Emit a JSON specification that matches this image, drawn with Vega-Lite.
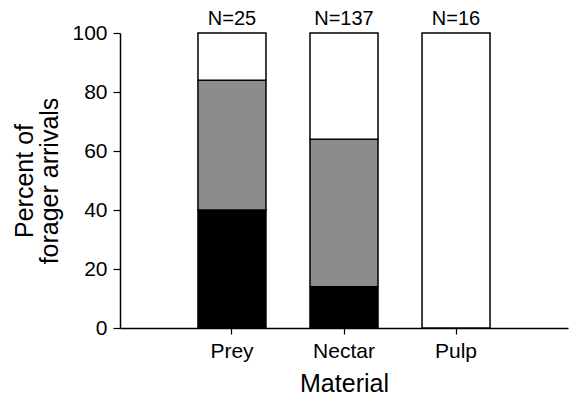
{
  "$schema": "https://vega.github.io/schema/vega-lite/v6.json",
  "width": 448,
  "height": 295,
  "autosize": "none",
  "padding": {"left": 120, "top": 33, "right": 1, "bottom": 71},
  "background": "white",
  "config": {
    "view": {"stroke": null},
    "font": "Liberation Sans"
  },
  "datasets": {
    "segs": [
      {"material": "Prey", "type": "black", "order": 1, "pct": 40},
      {"material": "Prey", "type": "gray", "order": 2, "pct": 44},
      {"material": "Prey", "type": "white", "order": 3, "pct": 16},
      {"material": "Nectar", "type": "black", "order": 1, "pct": 14},
      {"material": "Nectar", "type": "gray", "order": 2, "pct": 50},
      {"material": "Nectar", "type": "white", "order": 3, "pct": 36},
      {"material": "Pulp", "type": "black", "order": 1, "pct": 0},
      {"material": "Pulp", "type": "gray", "order": 2, "pct": 0},
      {"material": "Pulp", "type": "white", "order": 3, "pct": 100}
    ],
    "ns": [
      {"material": "Prey", "total": 100, "label": "N=25"},
      {"material": "Nectar", "total": 100, "label": "N=137"},
      {"material": "Pulp", "total": 100, "label": "N=16"}
    ]
  },
  "layer": [
    {
      "data": {"name": "segs"},
      "transform": [{"filter": "datum.pct > 0"}],
      "mark": {"type": "bar", "stroke": "black", "strokeWidth": 1.5},
      "encoding": {
        "x": {
          "field": "material", "type": "nominal", "sort": ["Prey", "Nectar", "Pulp"],
          "scale": {"paddingInner": 0.393, "paddingOuter": 0.696},
          "axis": {
            "title": "Material", "titleFontSize": 25, "titleFontWeight": "normal", "titleColor": "black",
            "titlePadding": 10,
            "labelAngle": 0, "labelFontSize": 21, "labelColor": "black", "labelPadding": 6,
            "domainColor": "black", "domainWidth": 1.5, "tickColor": "black", "tickSize": 6, "tickWidth": 1.2
          }
        },
        "y": {
          "field": "pct", "type": "quantitative", "stack": "zero",
          "scale": {"domain": [0, 100], "nice": false},
          "axis": {
            "title": ["Percent of", "forager arrivals"], "titleFontSize": 25, "titleFontWeight": "normal",
            "titleColor": "black", "titlePadding": 9, "titleLineHeight": 25,
            "values": [0, 20, 40, 60, 80, 100], "grid": false,
            "labelFontSize": 21, "labelColor": "black", "labelPadding": 6,
            "domainColor": "black", "domainWidth": 1.5, "tickColor": "black", "tickSize": 7, "tickWidth": 1.2
          }
        },
        "order": {"field": "order", "type": "quantitative"},
        "color": {
          "field": "type", "type": "nominal",
          "scale": {"domain": ["black", "gray", "white"], "range": ["#000000", "#8c8c8c", "#ffffff"]},
          "legend": null
        }
      }
    },
    {
      "data": {"name": "ns"},
      "mark": {"type": "text", "baseline": "alphabetic", "dy": -8, "fontSize": 20, "color": "black"},
      "encoding": {
        "x": {"field": "material", "type": "nominal", "sort": ["Prey", "Nectar", "Pulp"]},
        "y": {"field": "total", "type": "quantitative"},
        "text": {"field": "label"}
      }
    }
  ]
}
